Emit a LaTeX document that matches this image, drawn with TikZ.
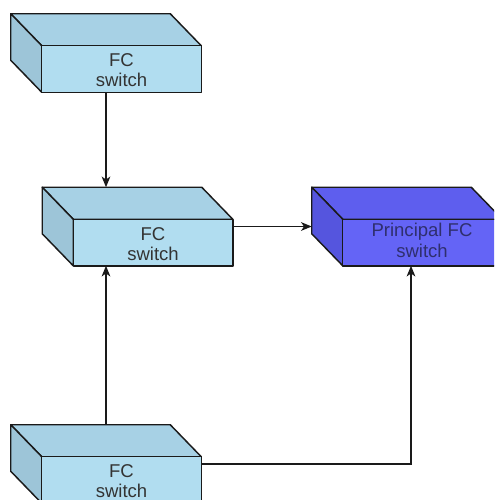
\documentclass[tikz,border=0pt]{standalone}
\usepackage{fontspec}
\setmainfont{Liberation Sans}
\usetikzlibrary{arrows.meta,calc}

\definecolor{swfront}{HTML}{B1DDF0}
\definecolor{swtop}{HTML}{A7D1E5}
\definecolor{swside}{HTML}{9DC5D8}
\definecolor{prfront}{HTML}{6464F6}
\definecolor{prtop}{HTML}{5E5EEE}
\definecolor{prside}{HTML}{5555DE}
\definecolor{edge}{HTML}{1A1A1A}
\definecolor{label}{HTML}{333333}
\definecolor{prlabel}{HTML}{2F2F6E}

\tikzset{
  frame/.style={draw=none, inner sep=0pt, minimum width=142.5pt, minimum height=58.5pt},
  face/.style={draw=edge, line width=1.1pt, line join=round},
  caption/.style={align=center, font=\fontsize{13.9pt}{15.5pt}\selectfont, inner sep=0pt},
  link/.style={draw=edge, line width=1.1pt, -{Stealth[length=8pt,width=6.5pt,inset=2.2pt]}},
}

% a box in 3-D: top face, left side and front face
\newcommand\switchbox[4]{%
  \path[face, fill=#3] (#1.north west) -- ($(#1.north east)+(-31,0)$) --
       ($(#1.north east)+(0,32)$) -- ($(#1.north west)+(31,32)$) -- cycle;
  \path[face, fill=#4] (#1.north west) -- ($(#1.north west)+(31,32)$) --
       ($(#1.south west)+(31,0)$) -- ($(#1.south west)+(0,-32)$) -- cycle;
  \path[face, fill=#2] ($(#1.north west)+(31,32)$) rectangle (#1.south east);
}

\begin{document}
\begin{tikzpicture}[x=0.75pt, y=-0.75pt]
\useasboundingbox (0,0) rectangle (494,500);
\clip (0,0) rectangle (494,500);

\node[frame] (upper) at (106,53) {};
\node[frame] (mid) at (137.5,226.5) {};
\node[frame] (main) at (407,226.5) {};
\node[frame] (lower) at (106,464) {};

\switchbox{upper}{swfront}{swtop}{swside}
\switchbox{mid}{swfront}{swtop}{swside}
\switchbox{main}{prfront}{prtop}{prside}
\switchbox{lower}{swfront}{swtop}{swside}

\node[caption, text=label] (upperlbl) at (121.5,70) {FC\\switch};
\node[caption, text=label] (midlbl) at (153,244) {FC\\switch};
\node[caption, text=prlabel] (mainlbl) at (422,240.5) {Principal FC\\switch};
\node[caption, text=label] (lowerlbl) at (121.5,481) {FC\\switch};

\draw[link] (upper.south) -- (upper.south |- mid.north);
\draw[link] (lower.north) -- (lower.north |- mid.south);
\draw[link] (mid.east) -- (main.west);
\draw[link] (lower.east) -| ($(main.south)+(4,0)$);
\end{tikzpicture}
\end{document}
